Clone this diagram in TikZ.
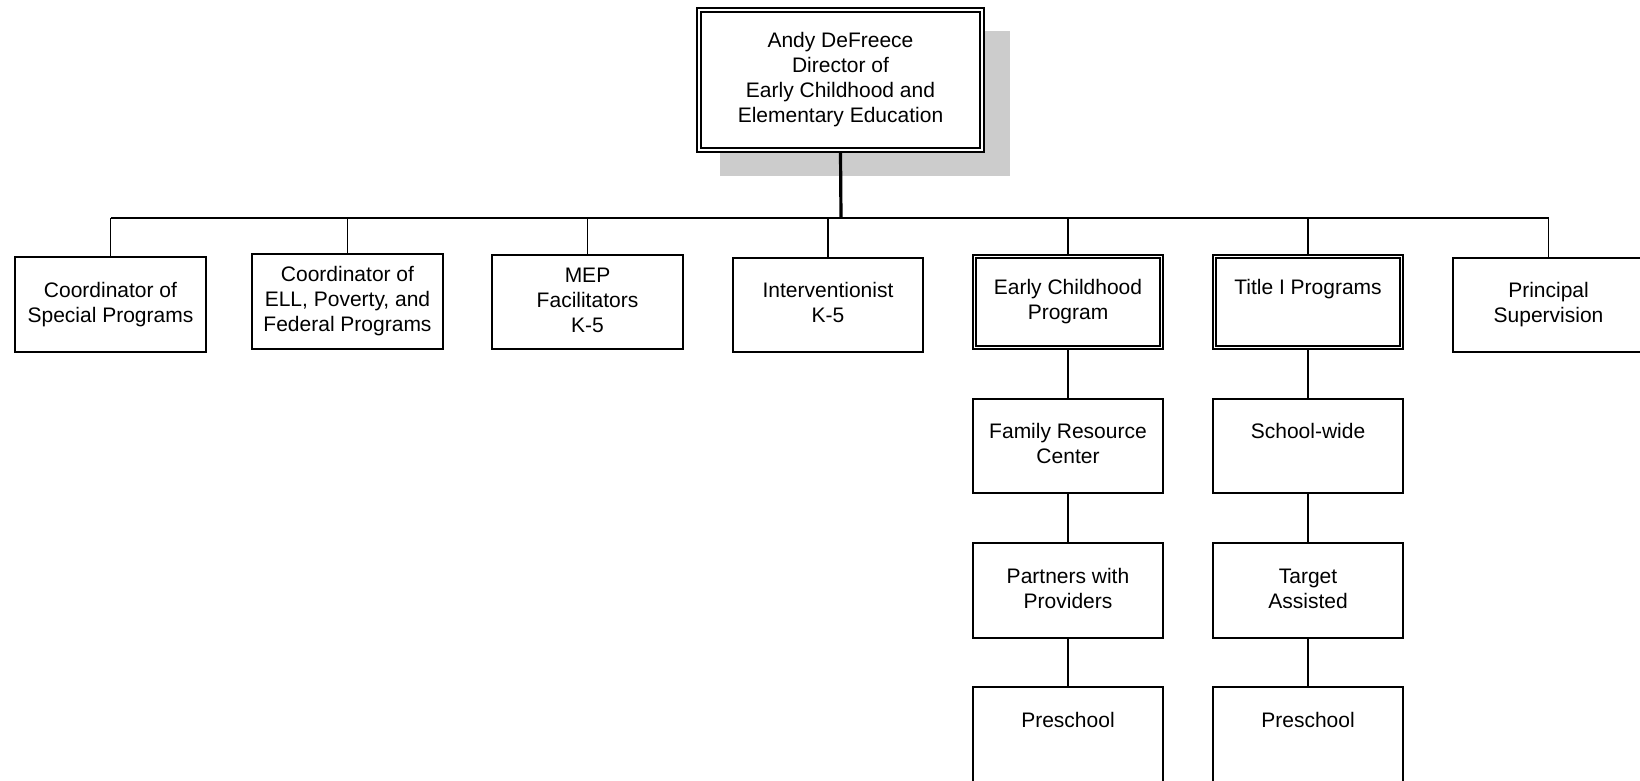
\documentclass[tikz,border=0pt]{standalone}
\usepackage{fontspec}
\setmainfont{Liberation Sans}
\definecolor{shadowgray}{RGB}{204,204,204}
\newcommand{\boxfont}{\fontsize{21}{25}\selectfont}
\begin{document}
\begin{tikzpicture}[x=1pt,y=-1pt,
  unitbox/.style={draw, line width=1.9pt, fill=white, minimum width=190.2pt,
    minimum height=94.7pt, inner sep=0pt, align=center, font=\boxfont},
  progbox/.style={unitbox, double, double distance=1.6pt, line width=1.5pt,
    outer sep=2.3pt, minimum width=187.3pt, minimum height=91.3pt},
  topbox/.style={unitbox, double, double distance=2.2pt, line width=1.8pt,
    outer sep=2.9pt, minimum width=283.2pt, minimum height=140.2pt},
  conn/.style={line width=1.9pt},
  trunk/.style={line width=3.2pt},
  busline/.style={line width=2.3pt}
]
\useasboundingbox (0,0) rectangle (1640,781);
\clip (0,0) rectangle (1640,781);
\fill[white] (0,0) rectangle (1640,781);

% drop shadow behind the director box
\fill[shadowgray] (720,31) rectangle (1010,176);

\node[topbox] (dir) at (840.5,80)
  {\strut Andy DeFreece\\\strut Director of\\\strut Early Childhood and\\\strut Elementary Education};

% first level
\node[unitbox] (c1) at (110.5,304.5) {\strut Coordinator of\\\strut Special Programs};
\node[unitbox] (c2) at (347.5,301.5) {\strut Coordinator of\\\strut ELL, Poverty, and\\\strut Federal Programs};
\node[unitbox] (c3) at (587.5,302) {\strut MEP\\\strut Facilitators\\\strut K-5};
\node[unitbox] (c4) at (828,305) {\strut Interventionist\\\strut K-5};
\node[progbox] (c5) at (1068,302) {\strut Early Childhood\\\strut Program};
\node[progbox] (c6) at (1308,302) {\strut Title I Programs\\\strut};
\node[unitbox] (c7) at (1548.5,305) {\strut Principal\\\strut Supervision};

% early childhood chain
\node[unitbox] (e1) at (1068,446) {\strut Family Resource\\\strut Center};
\node[unitbox] (e2) at (1068,590.5) {\strut Partners with\\\strut Providers};
\node[unitbox] (e3) at (1068,734.5) {\strut Preschool\\\strut};

% title I chain
\node[unitbox] (t1) at (1308,446) {\strut School-wide\\\strut};
\node[unitbox] (t2) at (1308,590.5) {\strut Target\\\strut Assisted};
\node[unitbox] (t3) at (1308,734.5) {\strut Preschool\\\strut};

% connectors
\coordinate (bar) at (0,218);
\draw[trunk] (dir.south) -- ([xshift=0.5pt]dir.south |- bar);
\draw[busline] (c1.north |- bar) -- (c7.north |- bar);
\foreach \n in {c1,c2,c3,c4,c5,c6,c7}
  \draw[conn] (\n.north |- bar) -- (\n.north);
\draw[conn] (c5.south) -- (e1.north);
\draw[conn] (e1.south) -- (e2.north);
\draw[conn] (e2.south) -- (e3.north);
\draw[conn] (c6.south) -- (t1.north);
\draw[conn] (t1.south) -- (t2.north);
\draw[conn] (t2.south) -- (t3.north);
\end{tikzpicture}
\end{document}
